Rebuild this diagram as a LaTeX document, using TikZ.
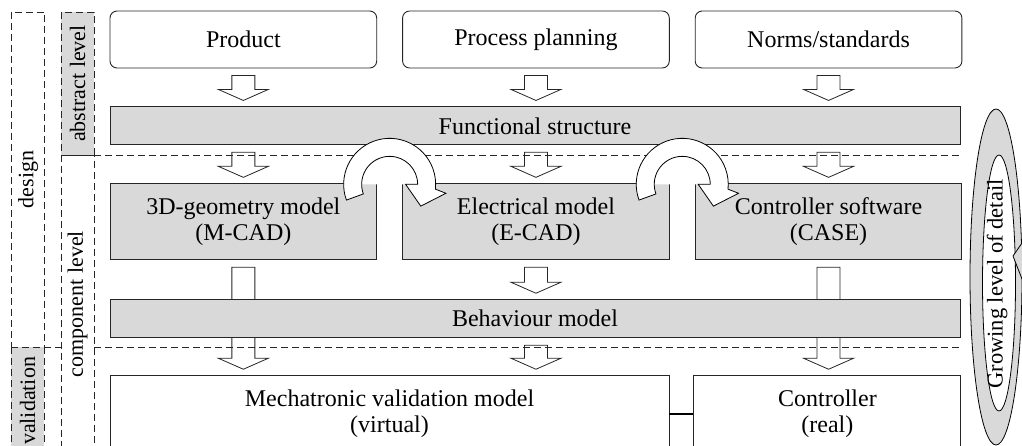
\documentclass[tikz,border=0pt]{standalone}
\usepackage{fontspec}
\setmainfont{Liberation Serif}
\usepackage{tikz}
\usetikzlibrary{positioning}
\usetikzlibrary{calc}

\definecolor{boxgray}{HTML}{D9D9D9}

\tikzset{
	stage/.style={draw=black!85, line width=0.9pt, align=center, inner sep=2pt, font=\fontsize{24}{26}\selectfont},
	inbox/.style={stage, rounded corners=7pt, minimum width=266.7pt, minimum height=57pt},
	modelbox/.style={stage, fill=boxgray, minimum width=266.7pt, minimum height=76pt},
	widebox/.style={stage, fill=boxgray, minimum width=850pt, minimum height=38pt},
	lvl/.style={draw=black!85, dash pattern=on 7pt off 4pt, line width=0.7pt, rotate=90, inner sep=0pt, minimum height=33pt, font=\fontsize{22}{24}\selectfont},
	levelline/.style={draw=black!85, dash pattern=on 7pt off 4pt, line width=0.7pt},
	blockarrow/.style={draw=black!85, line width=0.8pt, fill=white},
	turnarrow/.style={draw=black, line width=0.8pt, fill=white},
}

% block arrow from below #1 down to just above #2
\newcommand{\blockarrow}[2]{%
	\path (#1) ++(0,7) coordinate (ba-s);
	\path (#2) ++(0,-6) coordinate (ba-t);
	\draw[blockarrow] ($(ba-s)+(-11.5,0)$) -- ($(ba-t)+(-11.5,-11)$) -- ($(ba-t)+(-25,-11)$) -- (ba-t)
		-- ($(ba-t)+(25,-11)$) -- ($(ba-t)+(11.5,-11)$) -- ($(ba-s)+(11.5,0)$) -- cycle;}

% u-turn arrow round the gap between two models
\newcommand{\turnarrow}[1]{%
	\begin{scope}[shift={(#1)}]
		\fill[white] (-28,0) arc[start angle=180, end angle=360, radius=28] -- cycle;
		\draw[turnarrow] (160:46) arc[start angle=160, end angle=366, radius=46] -- (9:57) -- (35:38)
			-- (0:16) -- (0:28) arc[start angle=360, end angle=160, radius=28] -- cycle;
	\end{scope}}

\begin{document}
\begin{tikzpicture}[x=1pt, y=-1pt]
		\useasboundingbox (0,0) rectangle (1022,446);
		\clip (0,0) rectangle (1022,446);
		% levels on the left
		\node[lvl, minimum width=335pt] (design) at (28,179.5) {design};
		\node[lvl, fill=boxgray, minimum width=108pt] (valid) at (27.5,401) {validation};
		\node[lvl, fill=boxgray, minimum width=143pt] (abstr) at (77.5,83.5) {abstract level};
		\node[lvl, minimum width=298pt] (comp) at (77.5,304) {component level};
		% inputs
		\node[inbox] (prod) at (243.35,39.5) {Product};
		\node[inbox, right = 25pt of prod] (plan) {Process planning};
		\node[inbox, right = 25pt of plan] (norms) {Norms/standards};
		\node[widebox, below = 38pt of prod.south west, anchor=north west] (func) {Functional structure};
		% models
		\node[modelbox, below = 38pt of func.south west, anchor=north west] (geom) {3D-geometry model\\(M-CAD)};
		\node[modelbox, right = 25pt of geom] (elec) {Electrical model\\(E-CAD)};
		\node[modelbox, right = 25pt of elec] (ctrlsw) {Controller software\\(CASE)};
		\node[stage, minimum width=559pt, minimum height=77pt, below = 115pt of geom.south west, anchor=north west] (mvm) {Mechatronic validation model\\(virtual)};
		\node[stage, minimum width=267pt, minimum height=77pt, right = 24pt of mvm] (ctrl) {Controller\\(real)};
		\blockarrow{prod.south}{func.north -| prod}
		\blockarrow{plan.south}{func.north -| plan}
		\blockarrow{norms.south}{func.north -| norms}
		\blockarrow{func.south -| geom}{geom.north}
		\blockarrow{func.south -| elec}{elec.north}
		\blockarrow{func.south -| ctrlsw}{ctrlsw.north}
		\blockarrow{geom.south}{mvm.north -| geom}
		\blockarrow{ctrlsw.south}{ctrl.north -| ctrlsw}
		\node[widebox, below = 39pt of geom.south west, anchor=north west] (behav) {Behaviour model};
		\blockarrow{elec.south}{behav.north -| elec}
		\blockarrow{behav.south -| elec}{mvm.north -| elec}
		% level borders
		\draw[levelline] (94,155) -- (960,155);
		\draw[levelline] (44,347) -- (61,347);
		\draw[levelline] (94,347) -- (960,347);
		\draw[line width=1.6pt] (mvm) -- (ctrl);
		\coordinate (turnA) at ($(geom.north east)!0.5!(elec.north west)+(0,1)$);
		\coordinate (turnB) at ($(elec.north east)!0.5!(ctrlsw.north west)+(0,1)$);
		\turnarrow{turnA}
		\turnarrow{turnB}
		% growing level of detail
		\draw[line width=0.8pt, fill=boxgray] (996,277) ellipse [x radius=26, y radius=168];
		\draw[line width=0.8pt, fill=white] (999,283) ellipse [x radius=16.5, y radius=128];
		\draw[line width=0.8pt, fill=boxgray] (1022,243) -- (1013,256) -- (1022,279);
		\node[rotate=90, inner sep=0pt, font=\fontsize{22.5}{24}\selectfont] (grow) at (997,284) {Growing level of detail};
	\end{tikzpicture}
\end{document}
